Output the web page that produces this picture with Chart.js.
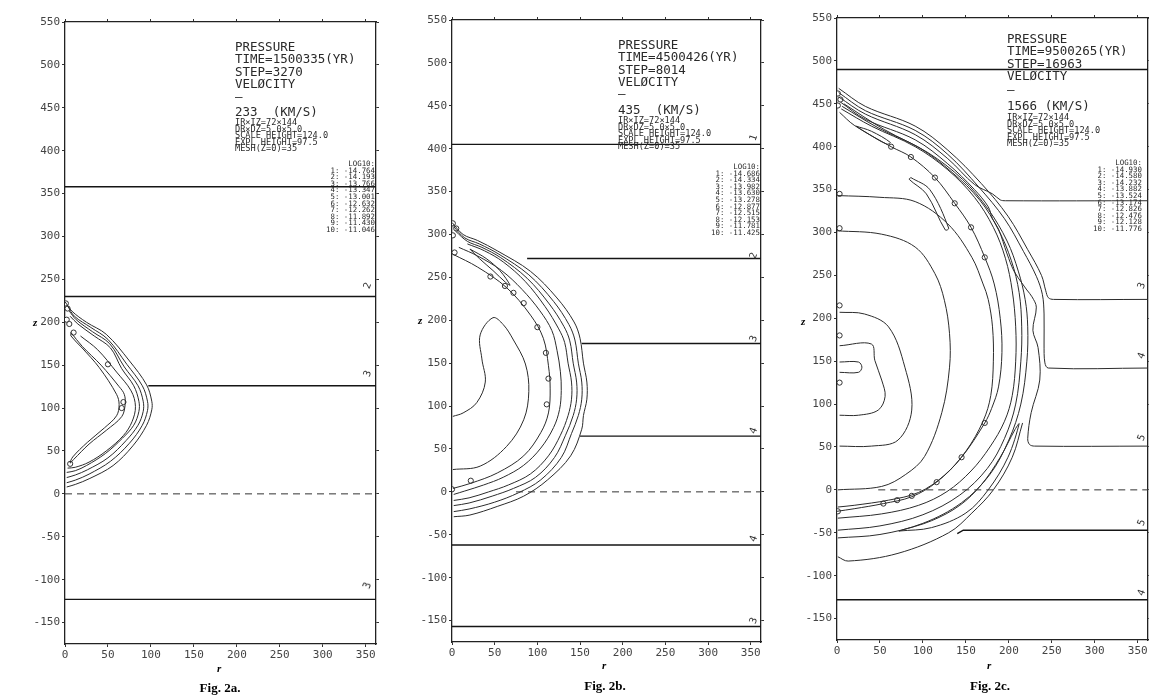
<!DOCTYPE html>
<html><head><meta charset="utf-8">
<script src="https://cdn.jsdelivr.net/npm/chart.js@4"></script>
<style>
html,body{margin:0;padding:0;background:#fff;width:1149px;height:697px;overflow:hidden;position:relative}
canvas{position:absolute;left:0;top:0}
.t{position:absolute;font-family:"DejaVu Sans Mono",monospace;color:#2a2a2a;white-space:pre}
.big{font-size:12.5px;line-height:12.3px}
.sm{font-size:8.6px;line-height:6.6px}
.lg{font-size:7.4px;line-height:6.6px;text-align:right}
.cap{position:absolute;font-family:"Liberation Serif",serif;font-weight:bold;font-size:13px;transform:translateX(-50%)}
.ax{position:absolute;font-family:"Liberation Serif",serif;font-style:italic;font-weight:bold;font-size:11px}
.lv{position:absolute;font-family:"DejaVu Sans Mono",monospace;font-size:10px;color:#333;transform:rotate(-70deg)}
</style></head><body>
<canvas id="ca" width="1170" height="697"></canvas>
<canvas id="cb" width="1170" height="697"></canvas>
<canvas id="cc" width="1170" height="697"></canvas>

<div class="t big" style="left:235px;top:41px">PRESSURE
TIME=1500335(YR)
STEP=3270
VELØCITY</div>
<div class="t big" style="left:235px;top:91px">—</div>
<div class="t big" style="left:235px;top:106px">233  (KM/S)</div>
<div class="t sm" style="left:235px;top:119px">IR×IZ=72×144
DR×DZ=5.0×5.0
SCALE HEIGHT=124.0
EXPL HEIGHT=97.5
MESH(Z=0)=35</div>
<div class="t lg" style="right:774px;top:161px">LOG10:
1: -14.764
2: -14.193
3: -13.766
4: -13.347
5: -13.001
6: -12.632
7: -12.262
8: -11.892
9: -11.430
10: -11.046</div>

<div class="t big" style="left:618px;top:39px">PRESSURE
TIME=4500426(YR)
STEP=8014
VELØCITY</div>
<div class="t big" style="left:618px;top:88px">—</div>
<div class="t big" style="left:618px;top:104px">435  (KM/S)</div>
<div class="t sm" style="left:618px;top:117px">IR×IZ=72×144
DR×DZ=5.0×5.0
SCALE HEIGHT=124.0
EXPL HEIGHT=97.5
MESH(Z=0)=35</div>
<div class="t lg" style="right:389px;top:164px">LOG10:
1: -14.686
2: -14.334
3: -13.982
4: -13.630
5: -13.278
6: -12.877
7: -12.515
8: -12.153
9: -11.781
10: -11.425</div>

<div class="t big" style="left:1007px;top:33px">PRESSURE
TIME=9500265(YR)
STEP=16963
VELØCITY</div>
<div class="t big" style="left:1007px;top:84px">—</div>
<div class="t big" style="left:1007px;top:100px">1566 (KM/S)</div>
<div class="t sm" style="left:1007px;top:114px">IR×IZ=72×144
DR×DZ=5.0×5.0
SCALE HEIGHT=124.0
EXPL HEIGHT=97.5
MESH(Z=0)=35</div>
<div class="t lg" style="left:1093px;top:160px">LOG10:
1: -14.930
2: -14.580
3: -14.232
4: -13.882
5: -13.524
6: -13.174
7: -12.826
8: -12.476
9: -12.128
10: -11.776</div>

<div class="ax" style="left:33px;top:316px">z</div>
<div class="ax" style="left:418px;top:314px">z</div>
<div class="ax" style="left:801px;top:315px">z</div>
<div class="ax" style="left:217px;top:662px">r</div>
<div class="ax" style="left:602px;top:659px">r</div>
<div class="ax" style="left:987px;top:659px">r</div>
<div class="cap" style="left:220px;top:680px">Fig. 2a.</div>
<div class="cap" style="left:605px;top:678px">Fig. 2b.</div>
<div class="cap" style="left:990px;top:678px">Fig. 2c.</div>

<div class="lv" style="left:364px;top:280px">2</div>
<div class="lv" style="left:364px;top:368px">3</div>
<div class="lv" style="left:364px;top:580px">3</div>
<div class="lv" style="left:750px;top:132px">1</div>
<div class="lv" style="left:750px;top:250px">2</div>
<div class="lv" style="left:750px;top:333px">3</div>
<div class="lv" style="left:750px;top:425px">4</div>
<div class="lv" style="left:750px;top:533px">4</div>
<div class="lv" style="left:750px;top:615px">3</div>
<div class="lv" style="left:1138px;top:280px">3</div>
<div class="lv" style="left:1138px;top:350px">4</div>
<div class="lv" style="left:1138px;top:432px">5</div>
<div class="lv" style="left:1138px;top:517px">5</div>
<div class="lv" style="left:1138px;top:587px">4</div>

<script>
// ---- axes ----
const rTicks = [0, 50, 100, 150, 200, 250, 300, 350];
const zTicks = [-150, -100, -50, 0, 50, 100, 150, 200, 250, 300, 350, 400, 450, 500, 550];
const rMax = 362;
const zMin = -175;
const zMax = 550;

// ---- Fig. 2a (r, z) ----
const a_c1 = [[0,224],[8,213],[25,200],[48,186],[75,155],[95,127],[101,108],[101,98],[95,80],[79,56],[56,33],[29,18],[12,11],[2,8]];
const a_c2 = [[3,219],[11,207],[30,194],[50,180],[72,151],[90,126],[96,108],[96,97],[90,80],[75,59],[53,38],[28,23],[12,16],[2,13]];
const a_c3 = [[5,213],[13,203],[32,189],[52,175],[69,148],[85,126],[91,108],[91,96],[85,80],[71,62],[50,42],[26,28],[12,22],[2,19]];
const a_c4 = [[6,207],[15,198],[34,184],[53,170],[66,146],[80,126],[86,108],[86,96],[80,80],[67,65],[47,47],[25,33],[12,27],[2,25]];
const a_c5 = [[18,184],[38,168],[60,142],[77,120],[82,102],[78,84],[68,68],[48,50],[28,37],[12,31],[3,30]];
const a_c6 = [[7,188],[20,172],[42,150],[63,125],[69,116],[70,104],[66,90],[48,74],[28,58],[10,40],[6,36],[9,43],[26,60],[46,77],[60,91],[63,104],[60,116],[40,147],[20,170],[7,184],[7,188]];
const a_lev = [[[0,358],[362,358]], [[0,230],[362,230]], [[97,126],[362,126]], [[0,-123],[362,-123]]];
const a_zero = [[0,0],[362,0]];
const a_marks = [[1,222],[3,216],[2,203],[5,198],[10,188],[50,151],[66,100],[68,107],[6,35]];

// ---- Fig. 2b ----
const b_c1 = [[0,314],[13,300],[30,293],[53,281],[92,257],[123,226],[143,198],[150,179],[154,150],[158,128],[158,108],[154,89],[152,73],[139,42],[112,14],[84,-5],[53,-17],[21,-27],[2,-29]];
const b_c2 = [[2,309],[15,296],[32,289],[55,277],[90,253],[119,222],[137,195],[144,177],[148,150],[152,128],[152,108],[148,89],[140,68],[128,40],[104,14],[78,-1],[50,-12],[20,-20],[2,-23]];
const b_c3 = [[4,304],[18,292],[35,285],[57,273],[88,249],[114,219],[131,193],[138,176],[142,150],[146,128],[146,108],[142,89],[133,66],[120,40],[98,17],[72,4],[47,-5],[20,-13],[2,-16]];
const b_c4 = [[18,289],[38,281],[60,268],[86,245],[109,216],[125,190],[132,174],[136,150],[140,128],[140,108],[136,89],[127,66],[113,42],[92,21],[66,8],[43,0],[20,-7],[2,-10]];
const b_c5 = [[8,285],[30,275],[58,258],[82,236],[103,211],[117,188],[123,165],[127,140],[128,118],[126,96],[119,75],[104,51],[84,31],[60,17],[37,8],[15,1],[2,-3]];
const b_c6 = [[1,277],[30,262],[64,238],[92,206],[107,179],[113,147],[115,120],[113,92],[104,69],[84,42],[53,22],[22,10],[1,4]];
const b_c7 = [[1,88],[13,92],[29,104],[39,128],[35,155],[33,183],[48,203],[60,195],[72,177],[86,149],[90,117],[84,84],[64,53],[33,30],[1,26]];
const b_loop = [[21,283],[40,272],[56,258],[68,241],[63,244],[48,258],[32,272],[21,283]];
const b_lev = [[[0,405],[362,405]], [[88,272],[362,272]], [[152,173],[362,173]], [[150,65],[362,65]], [[0,-62],[362,-62]], [[0,-157],[362,-157]]];
const b_zero = [[75,0],[362,0]];
const b_marks = [[1,313],[5,307],[1,299],[3,279],[45,251],[62,240],[72,232],[84,220],[100,192],[110,162],[113,132],[111,102],[22,13],[0,3]];

// ---- Fig. 2c ----
const c_ob1 = [[2,468],[33,447],[91,424],[129,396],[168,357],[199,319],[222,280],[238,250],[243,232],[246,224],[252,222],[362,222]];
const c_ob2 = [[2,463],[33,442],[91,419],[129,391],[165,353],[195,316],[217,278],[232,249],[239,228],[241,205],[241,170],[242,148],[246,142],[362,142]];
const c_ob3 = [[2,458],[33,438],[91,414],[129,386],[160,356],[181,345],[190,338],[196,337],[362,337]];
const c_kink = [[4,452],[33,432],[91,408],[129,380],[160,350],[176,330],[181,316],[188,304],[198,275],[206,255],[216,240],[221,233],[227,225],[232,213],[228,186],[234,166],[236,128],[226,90],[222,60],[224,53],[230,51],[362,51]];
const c_q1 = [[5,444],[40,424],[91,400],[129,373],[160,341],[182,306],[196,270],[204,232],[208,190],[208,150],[204,110],[195,80],[178,50],[156,22],[128,-2],[95,-18],[52,-28],[1,-33]];
const c_q2 = [[6,447],[48,422],[97,398],[134,370],[166,338],[188,303],[203,267],[212,230],[215,190],[214,150],[208,100],[195,60],[175,25],[143,-6],[100,-29],[50,-42],[1,-47]];
const c_q3 = [[8,450],[55,420],[106,393],[146,362],[176,327],[198,290],[211,255],[219,222],[222,190],[221,150],[214,100],[200,58],[178,18],[145,-15],[100,-39],[50,-52],[1,-56]];
const c_ring8 = [[3,440],[20,425],[63,400],[86,388],[114,364],[137,334],[156,306],[172,271],[183,240],[190,200],[192,160],[188,120],[180,95],[172,78],[145,38],[116,9],[87,-8],[54,-16],[20,-22],[0,-25]];
const c_z343 = [[1,343],[50,341],[91,336],[129,310],[157,271],[170,240],[176,222],[181,190],[182,150],[179,110],[170,80],[150,45],[125,17],[95,-3],[60,-12],[20,-18],[1,-20]];
const c_z300 = [[0,302],[52,298],[91,283],[114,252],[125,221],[131,182],[131,143],[122,90],[102,39],[80,18],[52,4],[1,0]];
const c_z207 = [[3,207],[32,205],[60,190],[79,143],[87,93],[71,58],[40,51],[3,51]];
const c_kidney = [[3,168],[40,170],[44,151],[52,128],[56,109],[48,93],[25,87],[3,87]];
const c_box = [[3,149],[25,149],[29,143],[25,137],[3,137]];
const c_loop1 = [[22,424],[40,418],[62,405],[58,403],[38,414],[22,424]];
const c_loop2 = [[86,364],[108,350],[130,305],[126,303],[104,345],[84,362],[86,364]];
const c_tongue = [[72,-48],[110,-44],[150,-27],[176,0],[199,38],[212,77],[207,70],[190,38],[168,6],[143,-18],[110,-36],[72,-48]];
const c_outerbot = [[1,-78],[13,-83],[71,-74],[130,-50],[157,-27],[182,0],[204,38],[216,78]];
const c_lev = [[[0,490],[362,490]], [[140,-51],[147,-47],[362,-47]], [[0,-128],[362,-128]]];
const c_zero = [[48,0],[362,0]];
const c_marks = [[1,462],[4,455],[1,448],[3,345],[3,305],[3,215],[3,180],[3,125],[1,-25],[54,-16],[70,-12],[87,-7],[116,9],[145,38],[172,78],[63,400],[86,388],[114,364],[137,334],[156,306],[172,271]];

// ---- drawing ----
const CW = 1170;
const tickFont = {family:'"DejaVu Sans Mono", monospace', size:11};
const ink = '#2b2b2b';
function pts(a){ return a.map(p => ({x:p[0], y:p[1]})); }
function lineDs(arr, extra){
  return Object.assign({data:pts(arr), showLine:true, pointRadius:0, borderColor:ink, borderWidth:1, tension:0.35, fill:false}, extra || {});
}
function setTicks(list){ return function(s){ s.ticks = list.map(v => ({value:v})); }; }
function makePanel(id, g, contours, levels, zero, marks){
  const datasets = [];
  contours.forEach(c => datasets.push(lineDs(c)));
  levels.forEach(l => datasets.push(lineDs(l, {tension:0, borderWidth:1.4, borderColor:'#151515'})));
  datasets.push(lineDs(zero, {tension:0, borderDash:[7,5], borderColor:'#333'}));
  datasets.push({data:pts(marks), showLine:false, pointRadius:2.6, pointBackgroundColor:'#fff', pointBorderColor:'#333', pointBorderWidth:1});
  const hidden = {display:false};
  new Chart(document.getElementById(id), {
    type:'scatter',
    data:{datasets},
    options:{
      responsive:false, animation:false, devicePixelRatio:1,
      layout:{padding:{left:g.L-40, right:CW-g.R, top:g.T, bottom:697-g.B-24}},
      plugins:{legend:{display:false}, tooltip:{enabled:false}},
      scales:{
        x:{type:'linear', position:'bottom', min:0, max:rMax, afterBuildTicks:setTicks(rTicks), afterFit(s){ s.height = 24; },
           ticks:{font:tickFont, color:'#444', padding:2, maxRotation:0, autoSkip:false},
           grid:{drawOnChartArea:false, tickLength:3, color:'#333'}, border:{color:'#222', width:1.3}},
        x2:{type:'linear', position:'top', min:0, max:rMax, afterBuildTicks:setTicks(rTicks), afterFit(s){ s.height = 0; },
           ticks:hidden, grid:{drawOnChartArea:false, tickLength:3, color:'#333'}, border:{color:'#222', width:1.3}},
        y:{type:'linear', position:'left', min:zMin, max:zMax, afterBuildTicks:setTicks(zTicks), afterFit(s){ s.width = 40; },
           ticks:{font:tickFont, color:'#444', padding:2, autoSkip:false},
           grid:{drawOnChartArea:false, tickLength:3, color:'#333'}, border:{color:'#222', width:1.3}},
        y2:{type:'linear', position:'right', min:zMin, max:zMax, afterBuildTicks:setTicks(zTicks), afterFit(s){ s.width = 0; },
           ticks:hidden, grid:{drawOnChartArea:false, tickLength:3, color:'#333'}, border:{color:'#222', width:1.3}}
      }
    }
  });
}
makePanel('ca', {L:65, R:376, T:22, B:644},
  [a_c1, a_c2, a_c3, a_c4, a_c5, a_c6], a_lev, a_zero, a_marks);
makePanel('cb', {L:452, R:761, T:20, B:642},
  [b_c1, b_c2, b_c3, b_c4, b_c5, b_c6, b_c7, b_loop], b_lev, b_zero, b_marks);
makePanel('cc', {L:837, R:1148, T:18, B:640},
  [c_ob1, c_ob2, c_ob3, c_kink, c_q1, c_q2, c_q3, c_ring8, c_z343, c_z300, c_z207, c_kidney, c_box, c_loop1, c_loop2, c_tongue, c_outerbot], c_lev, c_zero, c_marks);
</script>
</body></html>
